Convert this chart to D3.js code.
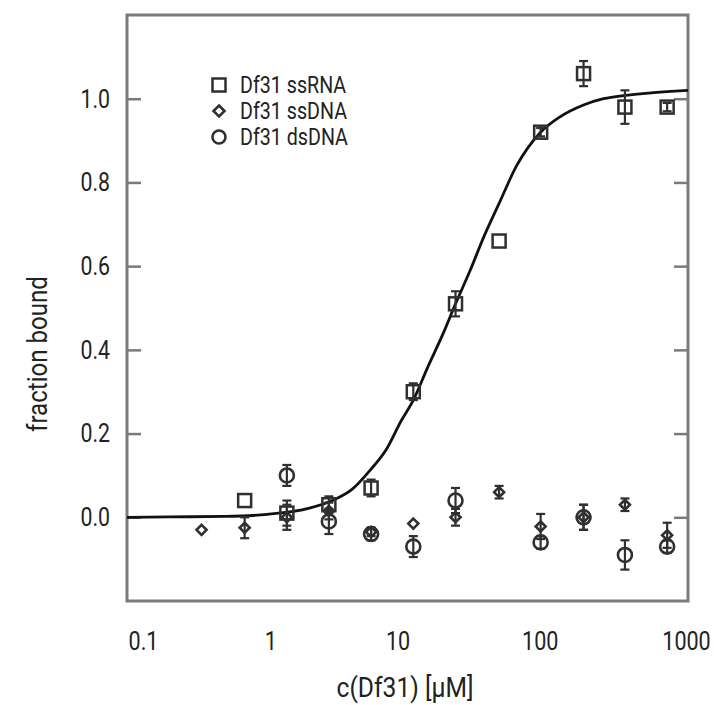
<!DOCTYPE html>
<html>
<head>
<meta charset="utf-8">
<script src="https://cdn.jsdelivr.net/npm/d3@7"></script>
<style>
  html, body { margin: 0; padding: 0; background: #fff; }
  svg text { font-family: Roboto, "Open Sans", sans-serif; fill: #222; }
</style>
</head>
<body>
<svg id="chart" width="714" height="705"></svg>
<script>
// ---- data ----
const ssRNA_x   = [0.69, 1.38, 2.75, 5.5, 11, 22, 45, 89, 180, 355, 710];
const ssRNA_y   = [0.04, 0.01, 0.03, 0.07, 0.30, 0.51, 0.66, 0.92, 1.06, 0.98, 0.98];
const ssRNA_err = [0.0, 0.03, 0.02, 0.02, 0.02, 0.03, 0.0, 0.01, 0.03, 0.04, 0.01];

const ssDNA_x   = [0.34, 0.69, 1.38, 2.75, 5.5, 11, 22, 45, 89, 180, 355, 710];
const ssDNA_y   = [-0.03, -0.025, 0.0, 0.015, -0.035, -0.015, 0.0, 0.06, -0.022, 0.0, 0.03, -0.043];
const ssDNA_err = [0.0, 0.025, 0.03, 0.02, 0.01, 0.0, 0.02, 0.015, 0.03, 0.03, 0.015, 0.03];

const dsDNA_x   = [1.38, 2.75, 5.5, 11, 22, 89, 180, 355, 710];
const dsDNA_y   = [0.10, -0.01, -0.04, -0.07, 0.04, -0.06, 0.0, -0.09, -0.07];
const dsDNA_err = [0.025, 0.03, 0.015, 0.025, 0.03, 0.015, 0.03, 0.035, 0.015];

// fit curve, points
const fit_x = [0.1, 0.2, 0.5, 1, 2, 3, 4, 5.5, 7, 9, 11, 14, 18, 22, 28, 35, 45, 60, 89, 120, 180, 250, 355, 500, 1000];
const fit_y = [0.0, 0.001, 0.002, 0.007, 0.022, 0.042, 0.066, 0.115, 0.16, 0.23, 0.28, 0.36, 0.44, 0.51, 0.59, 0.67, 0.75, 0.84, 0.92, 0.955, 0.985, 1.0, 1.008, 1.013, 1.02];

const xTicks = [0.1, 1, 10, 100, 1000];
const xTickLabels = ["0.1", "1", "10", "100", "1000"];
const yTicks = [0.0, 0.2, 0.4, 0.6, 0.8, 1.0];

const legendLabels = ["Df31 ssRNA", "Df31 ssDNA", "Df31 dsDNA"];
const xTitle = "c(Df31) [µM]";
const yTitle = "fraction bound";

// ---- layout / style ----
const W = 714, H = 705;
const m = {left: 127, right: 26, top: 15, bottom: 104};
const iw = W - m.left - m.right, ih = H - m.top - m.bottom;
const xLabelNudge = [16, 3, -10, -8, -2];   // hand-placed label offsets in the original

const svg = d3.select("#chart");
const g = svg.append("g").attr("transform", `translate(${m.left},${m.top})`);

const x = d3.scaleLog().domain([0.1, 1000]).range([0, iw]);
const y = d3.scaleLinear().domain([-0.2, 1.2]).range([ih, 0]);

const frameColor = "#7a7a7a";
const markColor = "#303030";

// condensed text: horizontal squeeze keeping the anchor point
function condense(sel, f) {
  sel.each(function() {
    const t = d3.select(this);
    const xv = +(t.attr("x") || 0);
    t.attr("x", xv / f).attr("transform", `scale(${f},1)`);
  });
}

// axes
const yAxisL = d3.axisLeft(y).tickValues(yTicks).tickFormat(d3.format(".1f"))
  .tickSizeInner(-14).tickSizeOuter(0).tickPadding(17);
const gyl = g.append("g").call(yAxisL);
gyl.select(".domain").remove();
gyl.selectAll("line").attr("stroke", frameColor).attr("stroke-width", 2.5);
gyl.selectAll("text").style("font-size", "26px").attr("fill", "#222");
condense(gyl.selectAll("text"), 0.82);

const yAxisR = d3.axisRight(y).tickValues(yTicks).tickFormat("")
  .tickSizeInner(-14).tickSizeOuter(0);
const gyr = g.append("g").attr("transform", `translate(${iw},0)`).call(yAxisR);
gyr.select(".domain").remove();
gyr.selectAll("line").attr("stroke", frameColor).attr("stroke-width", 2.5);

const xAxis = d3.axisBottom(x).tickValues(xTicks)
  .tickFormat((d, i) => xTickLabels[i]).tickSize(0).tickPadding(31);
const gx = g.append("g").attr("transform", `translate(0,${ih})`).call(xAxis);
gx.select(".domain").remove();
gx.selectAll("text").style("font-size", "26px").attr("fill", "#222")
  .attr("x", (d, i) => xLabelNudge[i]);
condense(gx.selectAll("text"), 0.83);

// frame
g.append("rect").attr("x", 0).attr("y", 0).attr("width", iw).attr("height", ih)
  .attr("fill", "none").attr("stroke", frameColor).attr("stroke-width", 3);

// titles
const xt = svg.append("text").attr("x", 405).attr("y", 697)
  .attr("text-anchor", "middle").style("font-size", "28px").text(xTitle);
condense(xt, 0.88);
const ytg = svg.append("g").attr("transform", `translate(47,354) rotate(-90)`);
const yt = ytg.append("text").attr("x", 0).attr("y", 0)
  .attr("text-anchor", "middle").style("font-size", "28px").text(yTitle);
condense(yt, 0.86);

// clip for plot
svg.append("defs").append("clipPath").attr("id", "clip")
  .append("rect").attr("x", 0).attr("y", 0).attr("width", iw).attr("height", ih);
const plot = g.append("g").attr("clip-path", "url(#clip)");

// fit curve
const fitData = fit_x.map((v, i) => [v, fit_y[i]]);
plot.append("path").datum(fitData)
  .attr("fill", "none").attr("stroke", "#111").attr("stroke-width", 2.8)
  .attr("d", d3.line().x(d => x(d[0])).y(d => y(d[1])).curve(d3.curveMonotoneX));

// error bars helper
function errorBars(xs, ys, es) {
  const data = xs.map((v, i) => ({x: v, y: ys[i], e: es[i]})).filter(d => d.e > 0);
  const eg = plot.append("g").attr("stroke", markColor).attr("stroke-width", 2.2);
  eg.selectAll("line.v").data(data).join("line")
    .attr("x1", d => x(d.x)).attr("x2", d => x(d.x))
    .attr("y1", d => y(d.y - d.e)).attr("y2", d => y(d.y + d.e));
  eg.selectAll("line.t").data(data).join("line")
    .attr("x1", d => x(d.x) - 4.5).attr("x2", d => x(d.x) + 4.5)
    .attr("y1", d => y(d.y + d.e)).attr("y2", d => y(d.y + d.e));
  eg.selectAll("line.b").data(data).join("line")
    .attr("x1", d => x(d.x) - 4.5).attr("x2", d => x(d.x) + 4.5)
    .attr("y1", d => y(d.y - d.e)).attr("y2", d => y(d.y - d.e));
}

errorBars(dsDNA_x, dsDNA_y, dsDNA_err);
errorBars(ssDNA_x, ssDNA_y, ssDNA_err);
errorBars(ssRNA_x, ssRNA_y, ssRNA_err);

// markers
function drawSquare(sel, cx, cy, s) {
  sel.append("rect").attr("x", cx - s/2).attr("y", cy - s/2).attr("width", s).attr("height", s)
    .attr("fill", "none").attr("stroke", markColor).attr("stroke-width", 2.5);
}
function drawCircle(sel, cx, cy, r) {
  sel.append("circle").attr("cx", cx).attr("cy", cy).attr("r", r)
    .attr("fill", "none").attr("stroke", markColor).attr("stroke-width", 2.6);
}
function drawDiamond(sel, cx, cy, r) {
  sel.append("path").attr("d", `M${cx},${cy - r}L${cx + r},${cy}L${cx},${cy + r}L${cx - r},${cy}Z`)
    .attr("fill", "none").attr("stroke", markColor).attr("stroke-width", 2.6);
}

dsDNA_x.forEach((v, i) => drawCircle(plot, x(v), y(dsDNA_y[i]), 7));
ssDNA_x.forEach((v, i) => drawDiamond(plot, x(v), y(ssDNA_y[i]), 5));
ssRNA_x.forEach((v, i) => drawSquare(plot, x(v), y(ssRNA_y[i]), 13));

// legend
const lg = svg.append("g");
const legY = [85, 111, 137];
drawSquare(lg, 219, legY[0], 13);
drawDiamond(lg, 219, legY[1], 5.5);
drawCircle(lg, 219, legY[2], 6.5);
legendLabels.forEach((t, i) => {
  const tx = lg.append("text").attr("x", 240).attr("y", legY[i]).attr("dy", "0.35em")
    .style("font-size", "24px").text(t);
  condense(tx, 0.82);
});
</script>
</body>
</html>
